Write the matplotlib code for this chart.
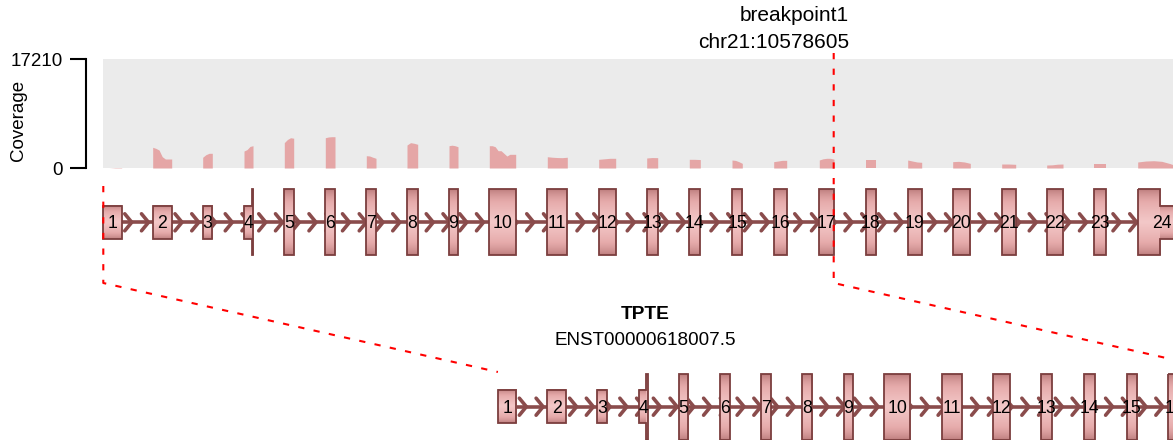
import numpy as np
import matplotlib.pyplot as plt
from matplotlib.colors import LinearSegmentedColormap
from matplotlib.patches import Polygon

plt.rcParams['font.family'] = ['Liberation Sans', 'DejaVu Sans']

# exon positions along the drawn transcript (display units, same scale for both tracks)
exon_start = [103.3, 152.7, 202.7, 244.0, 284.3, 325.3, 366.3, 407.0, 449.0, 489.3,
              547.3, 598.7, 646.7, 689.3, 732.0, 773.7, 819.3, 865.7, 907.7, 952.7,
              1001.7, 1046.7, 1094.3, 1137.7]
exon_end = [121.7, 171.7, 212.3, 253.0, 293.7, 335.0, 376.0, 417.7, 458.0, 515.7,
            567.3, 615.7, 657.7, 700.3, 742.3, 786.7, 834.0, 876.0, 921.7, 970.3,
            1015.7, 1063.0, 1106.3, 1186.0]
exon_labels = [str(i) for i in range(1, 25)]
cds_start = 251.5
cds_end = 1160.0

# coverage across each exon, evenly spaced within the exon
coverage = [
    [0, 0, 60, 60],
    [3270, 3100, 2840, 1790, 1420, 1420, 1420],
    [1690, 2100, 2320, 2320],
    [2680, 2900, 3400, 3520],
    [4000, 4500, 4780, 4700],
    [4780, 4900, 4940, 4940],
    [1940, 1900, 1700, 1530],
    [3630, 4000, 3900, 3740],
    [3520, 3600, 3520, 3360],
    [3520, 3520, 3360, 2730, 2730, 2310, 1890, 2160, 2160, 2160],
    [1780, 1700, 1650, 1630, 1700],
    [1370, 1450, 1530, 1530],
    [1580, 1650, 1630],
    [1370, 1370, 1330],
    [1260, 1200, 1000, 730],
    [1000, 1100, 1210, 1210],
    [1260, 1450, 1530, 1530, 1400],
    [1260, 1260, 1260],
    [1260, 1100, 950, 900],
    [1000, 1050, 950, 730],
    [630, 630, 580],
    [470, 500, 600, 630],
    [630, 630, 630],
    [950, 1100, 1150, 1050, 700, 250, 100],
]
cov_max = 17210

gene_name = "TPTE"
transcript = "ENST00000618007.5"
breakpoint_pos = 833.7
breakpoint_text = ["breakpoint1", "chr21:10578605"]

W, H = 1173, 440
fig = plt.figure(figsize=(W / 100, H / 100), dpi=100)

# coverage panel
ax_cov = fig.add_axes([103 / W, (H - 168) / H, (W - 103) / W, 109 / H])
ax_cov.set_facecolor('#EBEBEB')
ax_cov.set_xlim(103, W)
ax_cov.set_ylim(0, cov_max)
for s in ['top', 'right', 'bottom']:
    ax_cov.spines[s].set_visible(False)
ax_cov.spines['left'].set_position(('outward', 17 * 0.72))
ax_cov.spines['left'].set_linewidth(1.5)
ax_cov.set_xticks([])
ax_cov.set_yticks([0, cov_max])
ax_cov.set_yticklabels(['0', str(cov_max)])
ax_cov.tick_params(axis='y', length=11.5, width=1.5, pad=5.5, labelsize=13.5)
for s, e, vals in zip(exon_start, exon_end, coverage):
    xs = np.linspace(s, e, len(vals))
    ax_cov.fill_between(xs, vals, color='#E5A6A6', lw=0)

# main overlay axes in pixel units
ax = fig.add_axes([0, 0, 1, 1])
ax.patch.set_alpha(0)
ax.axis('off')

grad_cmap = LinearSegmentedColormap.from_list('exon', ['#BB7C7C', '#E6ABAB', '#F3C8C8'])
edge_col = '#7B3E3E'
strand_col = '#8A4C4C'
tall, short = 33.0, 16.7


def draw_track(dx, cy):
    left, right = exon_start[0] + dx, exon_end[-1] + dx
    ax.plot([left, right], [cy, cy], color=strand_col, lw=2.6, solid_capstyle='butt', zorder=2)
    for tip in np.arange(exon_start[0] + 11.7, exon_end[-1], 16.75) + dx:
        ax.plot([tip - 7, tip, tip - 7], [cy - 8.5, cy, cy + 8.5], color=strand_col,
                lw=2.6, solid_capstyle='round', solid_joinstyle='miter', zorder=2)
    for s, e, lab in zip(exon_start, exon_end, exon_labels):
        segs = [(s, min(e, cds_start), short), (max(s, cds_start), min(e, cds_end), tall),
                (max(s, cds_end), e, short)]
        segs = [(a + dx, b + dx, h) for a, b, h in segs if b > a]
        top, bot = [], []
        for a, b, h in segs:
            t = np.linspace(-1, 1, 64)
            grad = (1 - np.abs(t)) ** 0.7
            ax.imshow(grad[:, None], extent=[a, b, cy + h, cy - h], cmap=grad_cmap,
                      aspect='auto', interpolation='bilinear', vmin=0, vmax=1, zorder=3)
            top += [(a, cy - h), (b, cy - h)]
            bot += [(a, cy + h), (b, cy + h)]
        ax.add_patch(Polygon(top + bot[::-1], closed=True, fill=False, ec=edge_col, lw=1.3, zorder=4))
        ax.text((s + e) / 2 + dx, cy + 1.5, lab, ha='center', va='center', fontsize=12.7,
                color='black', zorder=5)


draw_track(0, 222.3)
shift = 394.6
draw_track(shift, 406.7)

# breakpoint and zoom guides
red = dict(color='red', lw=1.5, linestyle=(0, (3, 4.5)), zorder=6)
ax.plot([breakpoint_pos, breakpoint_pos, breakpoint_pos + shift], [53, 283, 372], **red)
ax.plot([exon_start[0], exon_start[0], exon_start[0] + shift], [186, 283, 372], **red)

ax.text(849, 20.7, breakpoint_text[0], ha='right', va='baseline', fontsize=15)
ax.text(849, 48.3, breakpoint_text[1], ha='right', va='baseline', fontsize=15)
ax.text(645, 319, gene_name, ha='center', va='baseline', fontsize=13.8, fontweight='bold')
ax.text(645, 345, transcript, ha='center', va='baseline', fontsize=13.6)
ax.text(19, 120, "Coverage", rotation=90, ha='center', va='center', fontsize=13.5)

ax.set_xlim(0, W)
ax.set_ylim(H, 0)

fig.savefig('out.png', dpi=100)
